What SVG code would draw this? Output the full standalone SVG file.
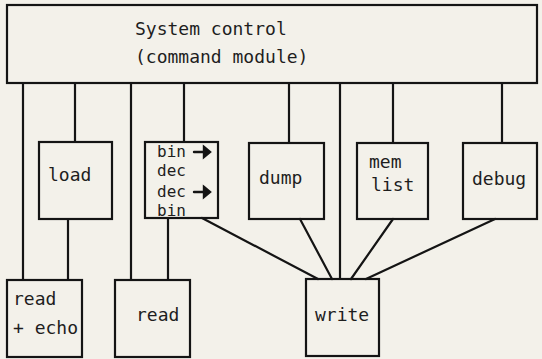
<svg xmlns="http://www.w3.org/2000/svg" width="542" height="359" viewBox="0 0 542 359">
<style>
.box{fill:none;stroke:#141414;stroke-width:2.2}
.ln{stroke:#141414;stroke-width:2.2;fill:none;stroke-linecap:round}
text{font-family:"DejaVu Sans Mono","Liberation Mono",monospace;font-size:18px;fill:#1e1e1e}
.sm{font-size:16px}
.arr{fill:#141414;stroke:#141414;stroke-width:2.4;stroke-linecap:round}
</style>
<rect x="0" y="0" width="542" height="359" fill="#f3f1ea"/>
<g id="connectors">
<line class="ln" x1="23" y1="83" x2="23" y2="280"/>
<line class="ln" x1="75" y1="83" x2="75" y2="142"/>
<line class="ln" x1="131" y1="83" x2="131" y2="280"/>
<line class="ln" x1="184" y1="83" x2="184" y2="142"/>
<line class="ln" x1="289" y1="83" x2="289" y2="143"/>
<line class="ln" x1="340" y1="83" x2="340" y2="279"/>
<line class="ln" x1="393" y1="83" x2="393" y2="143"/>
<line class="ln" x1="502" y1="83" x2="502" y2="143"/>
<line class="ln" x1="68" y1="219" x2="68" y2="280"/>
<line class="ln" x1="168" y1="218" x2="168" y2="280"/>
<line class="ln" x1="202" y1="218" x2="318" y2="279"/>
<line class="ln" x1="300" y1="219" x2="332" y2="279"/>
<line class="ln" x1="393" y1="219" x2="351" y2="279"/>
<line class="ln" x1="495" y1="219" x2="366" y2="279"/>
</g>
<g id="system-control">
<rect class="box" x="7" y="5" width="530" height="78"/>
<text x="135" y="35">System control</text>
<text x="135" y="63">(command module)</text>
</g>
<g id="load">
<rect class="box" x="39" y="142" width="73" height="77"/>
<text x="48" y="181">load</text>
</g>
<g id="bindec">
<rect class="box" x="145" y="142" width="73" height="76"/>
<text class="sm" x="157" y="157">bin</text>
<text class="sm" x="157" y="176">dec</text>
<text class="sm" x="157" y="197">dec</text>
<text class="sm" x="157" y="216">bin</text>
<g class="arr">
<line x1="194" y1="152" x2="208" y2="152"/>
<path d="M204 147 L210 152 L204 157 Z"/>
<line x1="194" y1="192" x2="208" y2="192"/>
<path d="M204 187 L210 192 L204 197 Z"/>
</g>
</g>
<g id="dump">
<rect class="box" x="249" y="143" width="75" height="76"/>
<text x="259" y="184">dump</text>
</g>
<g id="memlist">
<rect class="box" x="357" y="143" width="71" height="76"/>
<text x="369" y="168">mem</text>
<text x="371" y="191">list</text>
</g>
<g id="debug">
<rect class="box" x="463" y="143" width="74" height="76"/>
<text x="472" y="185">debug</text>
</g>
<g id="readecho">
<rect class="box" x="7" y="280" width="75" height="77"/>
<text x="13" y="305">read</text>
<text x="13" y="334">+ echo</text>
</g>
<g id="read">
<rect class="box" x="115" y="280" width="75" height="77"/>
<text x="136" y="321">read</text>
</g>
<g id="write">
<rect class="box" x="306" y="279" width="73" height="77"/>
<text x="315" y="321">write</text>
</g>
</svg>
